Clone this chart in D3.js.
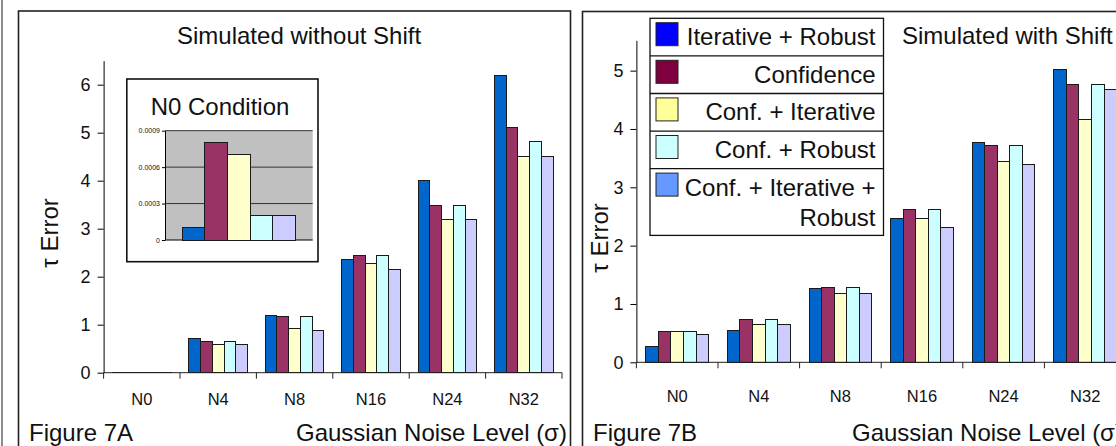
<!DOCTYPE html>
<html>
<head>
<meta charset="utf-8">
<script src="https://cdn.jsdelivr.net/npm/d3@7"></script>
<style>
  html, body { margin: 0; padding: 0; background: #fff; }
  svg { display: block; font-family: "Liberation Sans", Arial, sans-serif; }
</style>
</head>
<body>
<div id="chart"></div>
<script>
// Categories and series
const categories = ["N0", "N4", "N8", "N16", "N24", "N32"];
const seriesNames = ["Iterative + Robust", "Confidence", "Conf. + Iterative", "Conf. + Robust", "Conf. + Iterative + Robust"];
const barColors = ["#0066cc", "#993366", "#ffffcc", "#ccffff", "#ccccff"];
const legendColors = ["#0000ff", "#80003f", "#ffff99", "#ccffff", "#6699ff"];

// N0 inset values (tiny, also used for N0 in fig 7A)
const n0Values = [0.0001, 0.0008, 0.0007, 0.0002, 0.0002];
const insetTicks = [0, 0.0003, 0.0006, 0.0009];

// Figure 7A: one row per series, one value per category
const withoutShift = [
    [n0Values[0], 0.71, 1.20, 2.35, 4.00, 6.20],
    [n0Values[1], 0.64, 1.18, 2.45, 3.49, 5.10],
    [n0Values[2], 0.58, 0.93, 2.27, 3.20, 4.51],
    [n0Values[3], 0.64, 1.18, 2.45, 3.49, 4.81],
    [n0Values[4], 0.58, 0.88, 2.15, 3.20, 4.51]
];
const withoutShiftTicks = [0, 1, 2, 3, 4, 5, 6];

// Figure 7B
const withShift = [
    [0.27, 0.55, 1.26, 2.47, 3.76, 5.02],
    [0.52, 0.73, 1.28, 2.62, 3.72, 4.76],
    [0.52, 0.65, 1.18, 2.46, 3.45, 4.17],
    [0.52, 0.73, 1.28, 2.62, 3.72, 4.76],
    [0.47, 0.65, 1.18, 2.31, 3.39, 4.68]
];
const withShiftTicks = [0, 1, 2, 3, 4, 5];

const width = 1116, height = 446;

const svg = d3.select('#chart')
    .append('svg')
    .attr('width', width)
    .attr('height', height);

// gray page edge on the far left
svg.append('line')
    .attr('x1', 2).attr('x2', 2).attr('y1', 0).attr('y2', height)
    .attr('stroke', '#8c8c8c').attr('stroke-width', 2);

/**
 * Draw one bar panel (frame, axes, bars, labels)
 */
function drawPanel(p) {
    const g = svg.append('g');

    // frame (open at the bottom, runs off the picture)
    g.append('rect')
        .attr('x', p.frame[0]).attr('y', p.frame[1])
        .attr('width', p.frame[2]).attr('height', height)
        .attr('fill', 'none').attr('stroke', '#222').attr('stroke-width', 1.6);

    const x = d3.scaleBand()
        .domain(categories)
        .range([p.left, p.left + p.step * categories.length]);

    const xs = d3.scaleBand()
        .domain(d3.range(seriesNames.length))
        .range([0, x.bandwidth()])
        .paddingInner(0)
        .paddingOuter(0.75);

    const y = d3.scaleLinear()
        .domain([0, p.yMax])
        .range([p.zero, p.zero - p.unit * p.yMax]);

    // bars
    const groups = g.append('g')
        .selectAll('g')
        .data(categories)
        .join('g')
        .attr('transform', c => `translate(${x(c)},0)`);

    groups.selectAll('rect')
        .data((c, ci) => p.values.map((row, si) => ({ si, v: row[ci] })))
        .join('rect')
        .attr('x', d => xs(d.si))
        .attr('y', d => y(d.v))
        .attr('width', xs.bandwidth())
        .attr('height', d => y(0) - y(d.v))
        .attr('fill', d => barColors[d.si])
        .attr('stroke', '#1a1a1a')
        .attr('stroke-width', 1)
        .attr('shape-rendering', 'crispEdges');

    // y axis
    const yAxis = g.append('g')
        .attr('transform', `translate(${p.left},0)`)
        .call(d3.axisLeft(y).tickValues(p.ticks).tickFormat(d3.format('d'))
            .tickSize(6).tickSizeOuter(0).tickPadding(7));
    yAxis.select('.domain').attr('stroke', '#000');
    yAxis.selectAll('.tick line').attr('stroke', '#000');
    yAxis.selectAll('text')
        .attr('font-size', 18)
        .attr('font-family', '"Liberation Sans", Arial, sans-serif')
        .attr('fill', '#111');

    // x axis line with ticks on category boundaries
    const xEnd = p.left + p.step * categories.length;
    g.append('line')
        .attr('x1', p.left).attr('x2', xEnd)
        .attr('y1', y(0)).attr('y2', y(0))
        .attr('stroke', '#222').attr('stroke-width', 1);

    g.append('g')
        .selectAll('line')
        .data(d3.range(categories.length + 1))
        .join('line')
        .attr('x1', i => p.left + i * x.step())
        .attr('x2', i => p.left + i * x.step())
        .attr('y1', y(0))
        .attr('y2', y(0) + 6)
        .attr('stroke', '#222');

    g.append('g')
        .selectAll('text')
        .data(categories)
        .join('text')
        .attr('x', c => x(c) + x.bandwidth() / 2)
        .attr('y', p.labelY)
        .attr('text-anchor', 'middle')
        .attr('font-size', 16.5)
        .attr('fill', '#111')
        .text(c => c);

    // titles and labels
    g.append('text')
        .attr('x', p.titleX).attr('y', 44)
        .attr('font-size', 24).attr('fill', '#111')
        .text(p.title);

    g.append('text')
        .attr('transform', `translate(${p.yLabel[0]},${p.yLabel[1]}) rotate(-90)`)
        .attr('text-anchor', 'middle')
        .attr('dy', '0.35em')
        .attr('font-size', 24).attr('fill', '#111')
        .text('\u03c4 Error');

    g.append('text')
        .attr('x', p.figX).attr('y', 441)
        .attr('font-size', 24).attr('fill', '#111')
        .text(p.figure);

    g.append('text')
        .attr('x', p.xLabelX).attr('y', 441)
        .attr('font-size', 24).attr('fill', '#111')
        .text('Gaussian Noise Level (\u03c3)');

    return g;
}

drawPanel({
    frame: [18.5, 11, 552],
    left: 103.6, step: 76.4,
    zero: 372.7, unit: 48, yMax: 6.5,
    ticks: withoutShiftTicks,
    values: withoutShift,
    labelY: 405,
    title: 'Simulated without Shift', titleX: 177,
    yLabel: [50, 233],
    figure: 'Figure 7A', figX: 29,
    xLabelX: 296
});

drawPanel({
    frame: [582.5, 11.5, 560],
    left: 636.4, step: 81.6,
    zero: 362.3, unit: 58.33, yMax: 5.52,
    ticks: withShiftTicks,
    values: withShift,
    labelY: 402,
    title: 'Simulated with Shift', titleX: 902,
    yLabel: [600, 238],
    figure: 'Figure 7B', figX: 593,
    xLabelX: 852
});

// ---- inset: N0 Condition ----
const inset = svg.append('g');
inset.append('rect')
    .attr('x', 126.8).attr('y', 79)
    .attr('width', 191.2).attr('height', 182.7)
    .attr('fill', '#fff').attr('stroke', '#111').attr('stroke-width', 1.6);

inset.append('text')
    .attr('x', 220).attr('y', 115)
    .attr('text-anchor', 'middle')
    .attr('font-size', 24).attr('fill', '#111')
    .text('N0 Condition');

const ix = d3.scaleBand()
    .domain(d3.range(n0Values.length))
    .range([165, 312.7])
    .paddingInner(0)
    .paddingOuter(0.75);
const iy = d3.scaleLinear().domain([0, 0.0009]).range([240, 130.7]);

inset.append('rect')
    .attr('x', 165).attr('y', iy(0.0009))
    .attr('width', 147.7).attr('height', iy(0) - iy(0.0009))
    .attr('fill', '#c0c0c0');

inset.append('g')
    .selectAll('line')
    .data(insetTicks)
    .join('line')
    .attr('x1', 165).attr('x2', 312.7)
    .attr('y1', d => iy(d)).attr('y2', d => iy(d))
    .attr('stroke', d => d === 0 ? '#000' : '#333')
    .attr('stroke-width', 1);

inset.append('g')
    .selectAll('rect')
    .data(n0Values)
    .join('rect')
    .attr('x', (d, i) => ix(i))
    .attr('y', d => iy(d))
    .attr('width', ix.bandwidth())
    .attr('height', d => iy(0) - iy(d))
    .attr('fill', (d, i) => barColors[i])
    .attr('stroke', '#1a1a1a')
    .attr('shape-rendering', 'crispEdges');

const iAxis = inset.append('g')
    .attr('transform', 'translate(165,0)')
    .call(d3.axisLeft(iy).tickValues(insetTicks)
        .tickFormat(d => d === 0 ? '0' : d3.format('.4f')(d))
        .tickSize(3).tickSizeOuter(0).tickPadding(2));
iAxis.select('.domain').attr('stroke', '#000');
iAxis.selectAll('text')
    .attr('font-size', 7)
    .attr('font-family', '"Liberation Sans", Arial, sans-serif')
    .attr('fill', '#111');

// ---- legend (fig 7B) ----
const legend = svg.append('g').attr('transform', 'translate(650,18.3)');
const legendW = 233.5, rowH = 37.6;
const rowTops = seriesNames.map((s, i) => i * rowH);
const legendH = rowH * 4 + 66.7;

legend.append('rect')
    .attr('width', legendW).attr('height', legendH)
    .attr('fill', '#fff').attr('stroke', '#111').attr('stroke-width', 1.3);

legend.selectAll('line.sep')
    .data(rowTops.slice(1))
    .join('line')
    .attr('class', 'sep')
    .attr('x1', 0).attr('x2', legendW)
    .attr('y1', d => d).attr('y2', d => d)
    .attr('stroke', '#111').attr('stroke-width', 1.3);

legend.selectAll('rect.sw')
    .data(seriesNames)
    .join('rect')
    .attr('class', 'sw')
    .attr('x', 6).attr('y', (d, i) => rowTops[i] + 4.4)
    .attr('width', 22).attr('height', 23)
    .attr('fill', (d, i) => legendColors[i])
    .attr('stroke', '#222');

const legendLines = [["Iterative + Robust"], ["Confidence"], ["Conf. + Iterative"], ["Conf. + Robust"], ["Conf. + Iterative +", "Robust"]];
legendLines.forEach((lines, i) => {
    lines.forEach((t, j) => {
        legend.append('text')
            .attr('x', legendW - 8)
            .attr('y', rowTops[i] + 27 + j * 30)
            .attr('text-anchor', 'end')
            .attr('font-size', 24).attr('fill', '#111')
            .text(t);
    });
});
</script>
</body>
</html>
